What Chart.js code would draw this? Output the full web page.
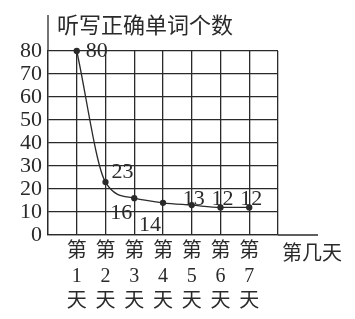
<!DOCTYPE html>
<html>
<head>
<meta charset="utf-8">
<script src="https://cdn.jsdelivr.net/npm/chart.js@4"></script>
<style>
  html, body { margin: 0; padding: 0; background: #fff; }
  canvas { display: block; }
</style>
</head>
<body>
<canvas id="c" width="355" height="319"></canvas>
<script>
// 数据
const days = [1, 2, 3, 4, 5, 6, 7];
const dayLabels = [['第', '1', '天'], ['第', '2', '天'], ['第', '3', '天'], ['第', '4', '天'],
                   ['第', '5', '天'], ['第', '6', '天'], ['第', '7', '天']];
const correctWords = [80, 23, 16, 14, 13, 12, 12];
const yTicks = [0, 10, 20, 30, 40, 50, 60, 70, 80];
const yTitle = '听写正确单词个数';
const xTitle = '第几天';

// 数值标注的偏移 (像素)
const labelOffsets = [[20, 0], [17, -10], [-13, 15], [-13, 22], [2, -6], [2, -8], [2, -8]];

const ink = '#2a2a2a';
const serif = "'Liberation Serif', 'DejaVu Serif', 'Noto Sans CJK SC', serif";
const cjk = "'Noto Sans CJK SC', sans-serif";

const extras = {
    id: 'extras',
    afterDraw(chart) {
        const c = chart.ctx;
        const a = chart.chartArea;
        c.save();
        c.strokeStyle = ink;
        c.lineWidth = 1.3;
        // 坐标轴延长
        c.beginPath();
        c.moveTo(a.left, a.top);
        c.lineTo(a.left, a.top - 36);
        c.moveTo(a.right, a.bottom);
        c.lineTo(a.right + 40, a.bottom);
        c.stroke();

        c.fillStyle = ink;
        c.textBaseline = 'middle';
        c.textAlign = 'left';
        c.font = '22px ' + cjk;
        c.fillText(yTitle, a.left + 9, a.top - 26);
        c.font = '20px ' + cjk;
        c.fillText(xTitle, a.right + 4, a.bottom + 17);

        // 数值标注
        const meta = chart.getDatasetMeta(0);
        c.font = '22px ' + serif;
        c.textAlign = 'center';
        meta.data.forEach((pt, i) => {
            const o = labelOffsets[i];
            c.fillText(String(correctWords[i]), pt.x + o[0], pt.y + o[1]);
        });
        c.restore();
    }
};

new Chart(document.getElementById('c').getContext('2d'), {
    type: 'line',
    data: {
        datasets: [{
            data: days.map((d, i) => ({ x: d, y: correctWords[i] })),
            borderColor: ink,
            borderWidth: 1.3,
            backgroundColor: ink,
            pointRadius: 2.5,
            pointHoverRadius: 2.5,
            cubicInterpolationMode: 'monotone',
            fill: false,
            clip: false
        }]
    },
    options: {
        responsive: false,
        animation: false,
        events: [],
        layout: { padding: { top: 51, right: 77, left: 0, bottom: 0 } },
        plugins: {
            legend: { display: false },
            tooltip: { enabled: false }
        },
        scales: {
            x: {
                type: 'linear',
                min: 0,
                max: 8,
                afterFit(s) { s.height = 84; },
                afterBuildTicks(s) { s.ticks = [0, 1, 2, 3, 4, 5, 6, 7, 8].map(v => ({ value: v })); },
                grid: { color: ink, lineWidth: 1.3, drawTicks: false },
                border: { color: ink, width: 1.3 },
                ticks: {
                    padding: 4,
                    color: ink,
                    maxRotation: 0,
                    autoSkip: false,
                    font: { family: serif, size: 20, lineHeight: 1.25 },
                    callback: v => dayLabels[v - 1] || ''
                }
            },
            y: {
                min: 0,
                max: 80,
                afterFit(s) { s.width = 48; },
                afterBuildTicks(s) { s.ticks = yTicks.map(v => ({ value: v })); },
                grid: { color: ink, lineWidth: 1.3, drawTicks: false },
                border: { color: ink, width: 1.3 },
                ticks: {
                    padding: 6,
                    color: ink,
                    autoSkip: false,
                    font: { family: serif, size: 22 }
                }
            }
        }
    },
    plugins: [extras]
});
</script>
</body>
</html>
